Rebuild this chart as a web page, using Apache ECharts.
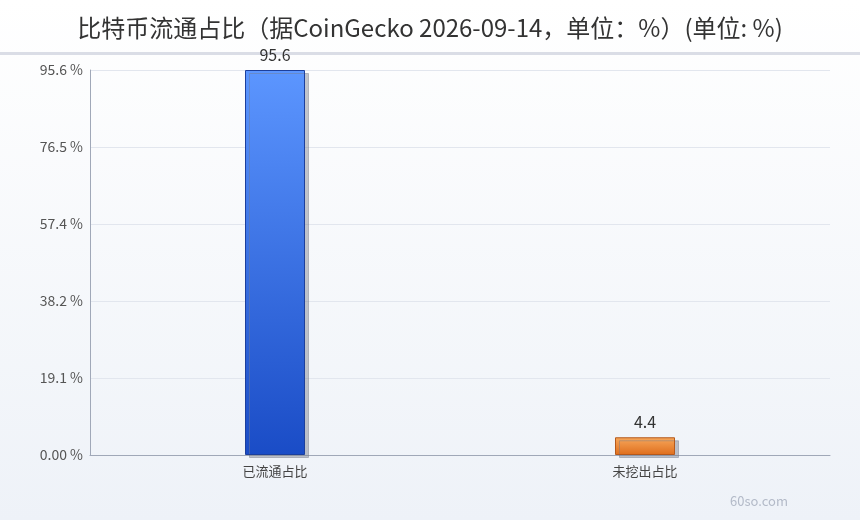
<!DOCTYPE html>
<html>
<head>
<meta charset="utf-8">
<script src="https://cdn.jsdelivr.net/npm/echarts@6/dist/echarts.min.js"></script>
<style>
html,body{margin:0;padding:0;width:860px;height:520px;overflow:hidden;}
#c{width:860px;height:520px;}
</style>
</head>
<body>
<div id="c"></div>
<script>
const titleText = '比特币流通占比（据CoinGecko 2026-09-14，单位：%）(单位: %)';
const categories = ['已流通占比', '未挖出占比'];
const values = [95.6, 4.4];
const yMax = 95.6;
const yStep = 95.6 / 5;
const watermark = '60so.com';

const FONT = '"Noto Sans CJK SC", "Noto Sans", sans-serif';
const chart = echarts.init(document.getElementById('c'), null, {renderer: 'canvas'});

const barColors = [
  {top: '#5c96ff', bottom: '#1a4cc6', border: '#1c3f9c'},
  {top: '#f7a85c', bottom: '#df6d1c', border: '#b5591c'}
];

chart.setOption({
  backgroundColor: new echarts.graphic.LinearGradient(0, 0, 0, 1, [
    {offset: 0, color: '#ffffff'},
    {offset: 1, color: '#eef2f8'}
  ]),
  animation: false,
  title: {
    text: titleText,
    left: 'center',
    top: 11,
    textStyle: {fontFamily: FONT, fontSize: 24, fontWeight: 'normal', color: '#333333'}
  },
  graphic: [
    {type: 'rect', left: 0, top: 52, shape: {width: 860, height: 3}, style: {fill: '#dadde6'}, silent: true},
    {type: 'text', left: 730, top: 495, style: {text: watermark, fill: '#b3bac8', font: '13px ' + FONT}, silent: true}
  ],
  grid: {left: 90, right: 30, top: 70, bottom: 65, containLabel: false},
  xAxis: {
    type: 'category',
    data: categories,
    axisLine: {lineStyle: {color: '#a0a8b8'}},
    axisTick: {show: false},
    axisLabel: {fontFamily: FONT, fontSize: 13, color: '#444444', margin: 10}
  },
  yAxis: {
    type: 'value',
    min: 0,
    max: yMax,
    interval: yStep,
    axisLine: {show: true, lineStyle: {color: '#a0a8b8'}},
    axisTick: {show: false},
    splitLine: {lineStyle: {color: '#e2e6ee'}},
    axisLabel: {
      fontFamily: FONT, fontSize: 14, color: '#555555', margin: 7,
      padding: [0, 0, 4, 0],
      formatter: v => Number(v).toPrecision(3) + ' %'
    }
  },
  series: [{
    type: 'bar',
    barWidth: 60,
    data: values.map((v, i) => ({
      value: v,
      itemStyle: {
        color: new echarts.graphic.LinearGradient(0, 0, 0, 1, [
          {offset: 0, color: barColors[i].top},
          {offset: 1, color: barColors[i].bottom}
        ]),
        borderColor: barColors[i].border,
        borderWidth: 1,
        shadowColor: 'rgba(120,125,140,0.45)',
        shadowOffsetX: 4,
        shadowOffsetY: 3,
        shadowBlur: 0
      }
    })),
    label: {
      show: true,
      position: 'top',
      distance: 7,
      fontFamily: FONT,
      fontSize: 16,
      color: '#333333',
      formatter: p => String(p.value)
    }
  }]
});
</script>
</body>
</html>
